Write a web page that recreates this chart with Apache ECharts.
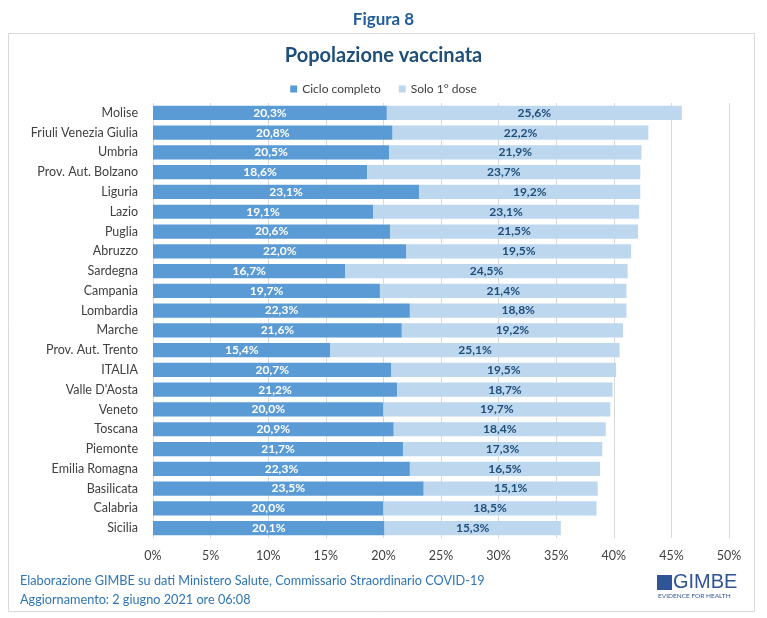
<!DOCTYPE html>
<html>
<head>
<meta charset="utf-8">
<script src="https://cdn.jsdelivr.net/npm/echarts@6/dist/echarts.min.js"></script>
<style>
* { margin: 0; padding: 0; }
body { background: #fff; }
</style>
</head>
<body>
<div id="main" style="width:767px;height:618px;"></div>
<script>
// regioni, dall'alto verso il basso
var regioni = ["Molise", "Friuli Venezia Giulia", "Umbria", "Prov. Aut. Bolzano", "Liguria", "Lazio",
  "Puglia", "Abruzzo", "Sardegna", "Campania", "Lombardia", "Marche", "Prov. Aut. Trento", "ITALIA",
  "Valle D'Aosta", "Veneto", "Toscana", "Piemonte", "Emilia Romagna", "Basilicata", "Calabria", "Sicilia"];
var cicloCompleto = [20.3, 20.8, 20.5, 18.6, 23.1, 19.1, 20.6, 22.0, 16.7, 19.7, 22.3, 21.6, 15.4, 20.7,
  21.2, 20.0, 20.9, 21.7, 22.3, 23.5, 20.0, 20.1];
var soloPrimaDose = [25.6, 22.2, 21.9, 23.7, 19.2, 23.1, 21.5, 19.5, 24.5, 21.4, 18.8, 19.2, 25.1, 19.5,
  18.7, 19.7, 18.4, 17.3, 16.5, 15.1, 18.5, 15.3];
var legenda = ["Ciclo completo", "Solo 1° dose"];

var font = "Lato, 'Open Sans', sans-serif";
function pct(p) { return p.value.toFixed(1).replace(".", ",") + "%"; }

var chart = echarts.init(document.getElementById("main"));
chart.setOption({
  animation: false,
  textStyle: { fontFamily: font },
  title: [
    { text: "Figura 8", left: "center", top: 6,
      textStyle: { color: "#1F5C99", fontSize: 17, fontWeight: "bold", fontFamily: font } },
    { text: "Popolazione vaccinata", left: "center", top: 41,
      textStyle: { color: "#1F4E79", fontSize: 20, fontWeight: "bold", fontFamily: font } }
  ],
  legend: {
    data: legenda, top: 78, left: "center", itemWidth: 7, itemHeight: 7, itemGap: 18,
    icon: "rect",
    textStyle: { color: "#404040", fontSize: 12, fontFamily: font }
  },
  grid: { left: 153, right: 38, top: 103, bottom: 80 },
  xAxis: {
    type: "value", min: 0, max: 50, interval: 5,
    axisLabel: { formatter: "{value}%", color: "#404040", fontSize: 12.5, margin: 11 },
    axisLine: { show: false }, axisTick: { show: false },
    splitLine: { lineStyle: { color: "#D9D9D9" } }
  },
  yAxis: {
    type: "category", data: regioni, inverse: true,
    axisLine: { show: false }, axisTick: { show: false },
    axisLabel: { color: "#404040", fontSize: 12.5, margin: 15 }
  },
  series: [
    { name: legenda[0], type: "bar", stack: "tot", data: cicloCompleto, barCategoryGap: "28%",
      itemStyle: { color: "#5B9BD5" },
      label: { show: true, position: "inside", formatter: pct, color: "#fff", fontWeight: "bold", fontSize: 12 } },
    { name: legenda[1], type: "bar", stack: "tot", data: soloPrimaDose,
      itemStyle: { color: "#BDD7EE" },
      label: { show: true, position: "inside", formatter: pct, color: "#1F4E79", fontWeight: "bold", fontSize: 12 } }
  ],
  graphic: [
    { type: "rect", shape: { x: 8.5, y: 33.5, width: 746, height: 578 }, silent: true, z: -1,
      style: { fill: "none", stroke: "#D9D9D9", lineWidth: 1 } },
    { type: "text", left: 20, top: 574,
      style: { text: "Elaborazione GIMBE su dati Ministero Salute, Commissario Straordinario COVID-19",
        fill: "#2E75B6", fontSize: 12.7, fontFamily: font } },
    { type: "text", left: 20, top: 593,
      style: { text: "Aggiornamento: 2 giugno 2021 ore 06:08", fill: "#2E75B6", fontSize: 12.7, fontFamily: font } },
    { type: "rect", shape: { x: 657, y: 575, width: 15, height: 15 },
      style: { fill: "#2F5597" } },
    { type: "text", left: 673, top: 572,
      style: { text: "GIMBE", fill: "#2F5597", fontSize: 20, fontFamily: "'Liberation Sans Narrow', sans-serif" } },
    { type: "text", left: 658, top: 592,
      style: { text: "EVIDENCE FOR HEALTH", fill: "#2F5597", fontSize: 6.5, fontFamily: font } }
  ]
});
</script>
</body>
</html>
